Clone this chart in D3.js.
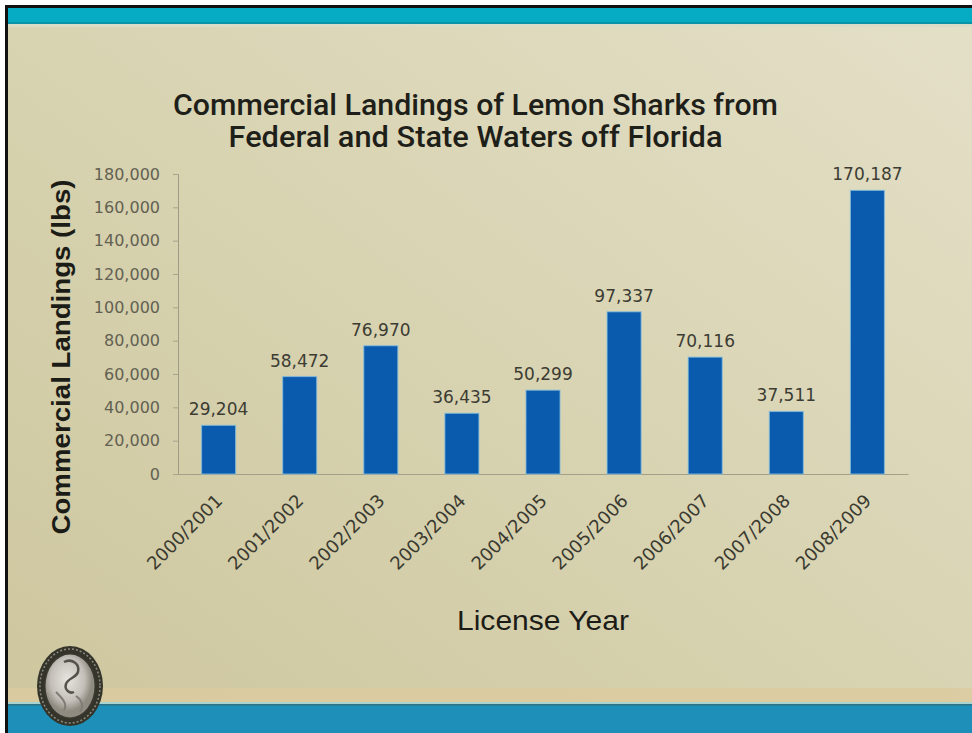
<!DOCTYPE html>
<html>
<head>
<meta charset="utf-8">
<script src="https://cdn.jsdelivr.net/npm/d3@7"></script>
<style>
  html, body { margin: 0; padding: 0; background: #fff; }
  svg { display: block; }
</style>
</head>
<body>
<div id="chart"></div>
<script>
const years = ["2000/2001", "2001/2002", "2002/2003", "2003/2004", "2004/2005",
  "2005/2006", "2006/2007", "2007/2008", "2008/2009"]
const landings = [29204, 58472, 76970, 36435, 50299, 97337, 70116, 37511, 170187]
const yTicks = [0, 20000, 40000, 60000, 80000, 100000, 120000, 140000, 160000, 180000]
const titleLines = ["Commercial Landings of Lemon Sharks from", "Federal and State Waters off Florida"]

const size = [972, 733]
const margin = ({top: 174, right: 64, bottom: 259, left: 178})

const svg = d3.select("#chart").append("svg")
  .attr("width", size[0])
  .attr("height", size[1])

const defs = svg.append("defs")
const bg = defs.append("linearGradient")
  .attr("id", "bg").attr("x1", 0).attr("y1", 1).attr("x2", 1).attr("y2", 0)
bg.append("stop").attr("offset", 0).attr("stop-color", "#cdc69e")
bg.append("stop").attr("offset", 0.5).attr("stop-color", "#d8d3b1")
bg.append("stop").attr("offset", 1).attr("stop-color", "#e4e0c8")

const seal = defs.append("radialGradient").attr("id", "seal").attr("cx", 0.45).attr("cy", 0.4)
seal.append("stop").attr("offset", 0).attr("stop-color", "#e8e4e0")
seal.append("stop").attr("offset", 0.7).attr("stop-color", "#c3bfb8")
seal.append("stop").attr("offset", 1).attr("stop-color", "#8f8b80")

// slide frame
svg.append("rect").attr("x", 0).attr("y", 0).attr("width", size[0]).attr("height", size[1]).attr("fill", "#fff")
svg.append("rect").attr("x", 7).attr("y", 8).attr("width", size[0] - 7).attr("height", size[1] - 8).attr("fill", "url(#bg)")
svg.append("rect").attr("x", 7).attr("y", 688).attr("width", size[0] - 7).attr("height", 14).attr("fill", "#dccb9f").attr("opacity", 0.8)
svg.append("rect").attr("x", 7).attr("y", 702).attr("width", size[0] - 7).attr("height", 2).attr("fill", "#a9d3cf")
svg.append("rect").attr("x", 7).attr("y", 704).attr("width", size[0] - 7).attr("height", 29).attr("fill", "#1e8fb9")
svg.append("rect").attr("x", 7).attr("y", 704).attr("width", size[0] - 7).attr("height", 1.5).attr("fill", "#2f7382")
svg.append("rect").attr("x", 7).attr("y", 8).attr("width", size[0] - 7).attr("height", 16).attr("fill", "#06acc4")
svg.append("rect").attr("x", 7).attr("y", 22).attr("width", size[0] - 7).attr("height", 2).attr("fill", "#0a93a8")
svg.append("rect").attr("x", 7).attr("y", 24).attr("width", size[0] - 7).attr("height", 3).attr("fill", "#d9dcc6")
svg.append("rect").attr("x", 5).attr("y", 5).attr("width", size[0] - 5).attr("height", 3).attr("fill", "#111")
svg.append("rect").attr("x", 5).attr("y", 5).attr("width", 3).attr("height", size[1] - 5).attr("fill", "#111")

// seal logo
const logo = svg.append("g").attr("transform", "translate(70,686)")
logo.append("ellipse").attr("rx", 33).attr("ry", 40).attr("fill", "#34342a")
logo.append("ellipse").attr("rx", 30).attr("ry", 37).attr("fill", "none")
  .attr("stroke", "#8d8b7e").attr("stroke-width", 1.5).attr("stroke-dasharray", "2,2")
logo.append("ellipse").attr("rx", 26).attr("ry", 33).attr("fill", "#3a392f")
logo.append("ellipse").attr("rx", 24.5).attr("ry", 31.5).attr("fill", "url(#seal)")
logo.append("path").attr("d", "M-6,-24 C2,-28 10,-22 8,-14 C6,-8 -2,-8 -4,-2 C-6,4 0,8 4,6")
  .attr("fill", "none").attr("stroke", "#55524b").attr("stroke-width", 2.5)
logo.append("path").attr("d", "M-14,6 C-8,12 -2,18 -6,24 M6,10 C12,14 14,20 10,26")
  .attr("fill", "none").attr("stroke", "#807c74").attr("stroke-width", 2)

const scaleX = d3.scaleBand()
  .domain(years)
  .range([margin.left, size[0] - margin.right])
  .paddingInner(0.58)
  .paddingOuter(0.29)

const scaleY = d3.scaleLinear()
  .domain([0, 180000])
  .range([size[1] - margin.bottom, margin.top])

const fmt = d3.format(",")

// title
svg.append("g")
  .selectAll("text")
  .data(titleLines)
  .join("text")
    .attr("x", 475.5)
    .attr("y", (d, i) => 115 + i * 32)
    .attr("text-anchor", "middle")
    .attr("font-family", "'Liberation Sans Narrow', Roboto, sans-serif")
    .attr("font-size", 30)
    .attr("font-weight", 500)
    .attr("fill", "#1f1f1a")
    .attr("textLength", (d, i) => i == 0 ? 605 : 494)
    .attr("lengthAdjust", "spacingAndGlyphs")
    .text(d => d)

// axes
const yAxis = g => g
  .attr("transform", `translate(${margin.left},0)`)
  .call(d3.axisLeft(scaleY).tickValues(yTicks).tickFormat(fmt).tickSize(5).tickPadding(13))
  .call(g => g.select(".domain").attr("stroke", "#9f9b84"))
  .call(g => g.selectAll(".tick line").attr("stroke", "#a8a48d"))
  .call(g => g.selectAll(".tick text")
    .attr("font-family", "'DejaVu Sans', sans-serif")
    .attr("font-size", 16)
    .attr("fill", "#636152"))

svg.append("g").call(yAxis)

const xAxis = g => g
  .attr("transform", `translate(0,${size[1] - margin.bottom})`)
  .call(d3.axisBottom(scaleX).tickSize(0).tickSizeOuter(0))
  .call(g => g.select(".domain").attr("stroke", "#a39f88"))
  .call(g => g.selectAll(".tick text")
    .attr("font-family", "'DejaVu Sans', sans-serif")
    .attr("font-size", 18)
    .attr("fill", "#3a3a30")
    .attr("text-anchor", "end")
    .attr("x", 5)
    .attr("y", 28)
    .attr("dy", 0)
    .attr("transform", "rotate(-45, 5, 28)"))

svg.append("g").call(xAxis)

// bars
svg.append("g")
  .selectAll("rect")
  .data(landings)
  .join("rect")
    .attr("x", (d, i) => scaleX(years[i]))
    .attr("y", d => scaleY(d))
    .attr("width", scaleX.bandwidth())
    .attr("height", d => scaleY(0) - scaleY(d))
    .attr("fill", "#0a5aad")
    .attr("stroke", "#86c0e0")
    .attr("stroke-opacity", 0.7)
    .attr("stroke-width", 1.2)

// value labels
svg.append("g")
  .selectAll("text")
  .data(landings)
  .join("text")
    .attr("x", (d, i) => scaleX(years[i]) + scaleX.bandwidth() / 2)
    .attr("y", d => scaleY(d) - 10)
    .attr("text-anchor", "middle")
    .attr("font-family", "'DejaVu Sans', sans-serif")
    .attr("font-size", 17)
    .attr("fill", "#3c3c33")
    .text(fmt)

// axis titles
svg.append("text")
  .attr("transform", "translate(70,357) rotate(-90)")
  .attr("text-anchor", "middle")
  .attr("font-family", "'Liberation Sans', Arial, sans-serif")
  .attr("font-weight", "bold")
  .attr("font-size", 25)
  .attr("fill", "#1c1c17")
  .attr("textLength", 355)
  .attr("lengthAdjust", "spacingAndGlyphs")
  .text("Commercial Landings (lbs)")

svg.append("text")
  .attr("x", (margin.left + size[0] - margin.right) / 2)
  .attr("y", 630)
  .attr("text-anchor", "middle")
  .attr("font-family", "'Liberation Sans', Arial, sans-serif")
  .attr("font-size", 28)
  .attr("fill", "#1c1c17")
  .attr("textLength", 172)
  .attr("lengthAdjust", "spacingAndGlyphs")
  .text("License Year")
</script>
</body>
</html>
